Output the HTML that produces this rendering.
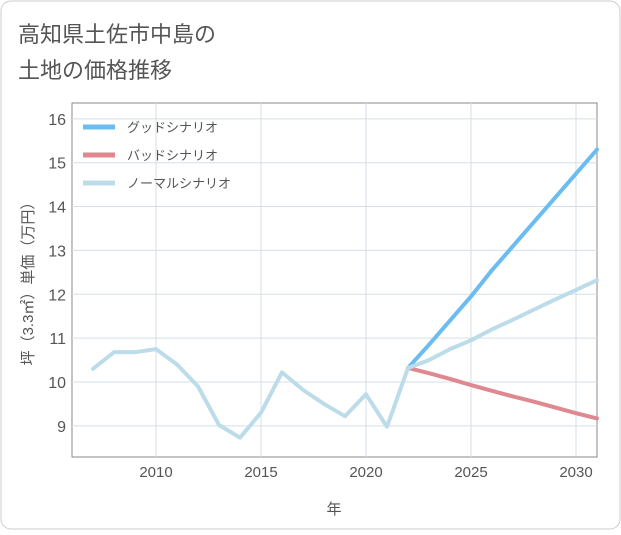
<!DOCTYPE html>
<html><head><meta charset="utf-8"><style>
body{margin:0;background:#fff;font-family:"Liberation Sans","Noto Sans CJK JP",sans-serif;}
#wrap{position:relative;width:621px;height:530px;}
</style></head><body>
<div id="wrap">
<svg id="chart" width="621" height="530" xmlns="http://www.w3.org/2000/svg">
<rect x="1" y="1" width="619" height="528" rx="10" fill="#fff" stroke="#ccc"/>
<text x="18" y="42" font-size="22" fill="#555">高知県土佐市中島の</text>
<text x="18" y="78" font-size="22" fill="#555">土地の価格推移</text>
<rect x="72" y="103" width="525" height="354" fill="#fff" stroke="#888" stroke-width="1"/>
<g id="grid"></g><g id="series"></g><g id="axes"></g>
<text x="334" y="514" font-size="15" fill="#555" text-anchor="middle">年</text>
<text transform="translate(33,280) rotate(-90)" font-size="15" fill="#555" text-anchor="middle">坪（3.3㎡）単価（万円）</text>
<g id="legend"></g>
</svg>
</div>
<script>
const histYears=[2007,2008,2009,2010,2011,2012,2013,2014,2015,2016,2017,2018,2019,2020,2021,2022];
const histValues=[10.3,10.68,10.68,10.75,10.4,9.9,9.02,8.73,9.3,10.22,9.82,9.5,9.22,9.72,8.98,10.32];
const futYears=[2022,2023,2024,2025,2026,2027,2028,2029,2030,2031];
const goodValues=[10.32,10.85,11.4,11.95,12.55,13.1,13.65,14.2,14.75,15.3];
const badValues=[10.32,10.2,10.07,9.93,9.8,9.67,9.55,9.42,9.29,9.17];
const normalValues=[10.32,10.5,10.75,10.95,11.2,11.42,11.65,11.88,12.1,12.32];
const xTicks=[2010,2015,2020,2025,2030];
const yTicks=[9,10,11,12,13,14,15,16];
const NS="http://www.w3.org/2000/svg";
const x=y=>156+(y-2010)*21;
const yv=v=>382-(v-10)*43.86;
function mk(tag,attrs,parent){const e=document.createElementNS(NS,tag);for(const k in attrs)e.setAttribute(k,attrs[k]);parent.appendChild(e);return e;}
const grid=document.getElementById('grid'),axes=document.getElementById('axes'),ser=document.getElementById('series'),leg=document.getElementById('legend');
xTicks.forEach(t=>{
 const l=mk('line',{x1:x(t),x2:x(t),y1:103,y2:457,stroke:'#d5dfe8'},grid);
 
 
 const tx=mk('text',{x:x(t),y:477,'font-size':15,fill:'#555','text-anchor':'middle'},axes);tx.textContent=t;
 
 
});
yTicks.forEach(t=>{
 const l=mk('line',{x1:72,x2:597,y1:yv(t),y2:yv(t),stroke:'#d5dfe8'},grid);
 
 
 const tx=mk('text',{x:66,y:yv(t)+6,'font-size':16,fill:'#555','text-anchor':'end'},axes);tx.textContent=t;
 
 
});
function line(xs,vs,color,name){
 const p=mk('polyline',{points:xs.map((a,i)=>x(a)+','+yv(vs[i])).join(' '),fill:'none',stroke:color,'stroke-width':4,'stroke-linejoin':'round','stroke-linecap':'round'},ser);
 
 
}
line(futYears,goodValues,'#6bbcf0','good-scenario-line');
line(futYears,badValues,'#e0888f','bad-scenario-line');
line(futYears,normalValues,'#bcdcea','normal-scenario-line');
line(histYears,histValues,'#bcdcea','historical-line');
const legItems=[['グッドシナリオ','#6bbcf0','legend-good'],['バッドシナリオ','#e0888f','legend-bad'],['ノーマルシナリオ','#bcdcea','legend-normal']];
legItems.forEach((it,i)=>{
 const yy=127+i*28;
 const l=mk('line',{x1:83,x2:115,y1:yy,y2:yy,stroke:it[1],'stroke-width':5},leg);
 
 
 const t=mk('text',{x:127,y:yy+5,'font-size':13,fill:'#555'},leg);t.textContent=it[0];
 
 
});
</script>
</body></html>
